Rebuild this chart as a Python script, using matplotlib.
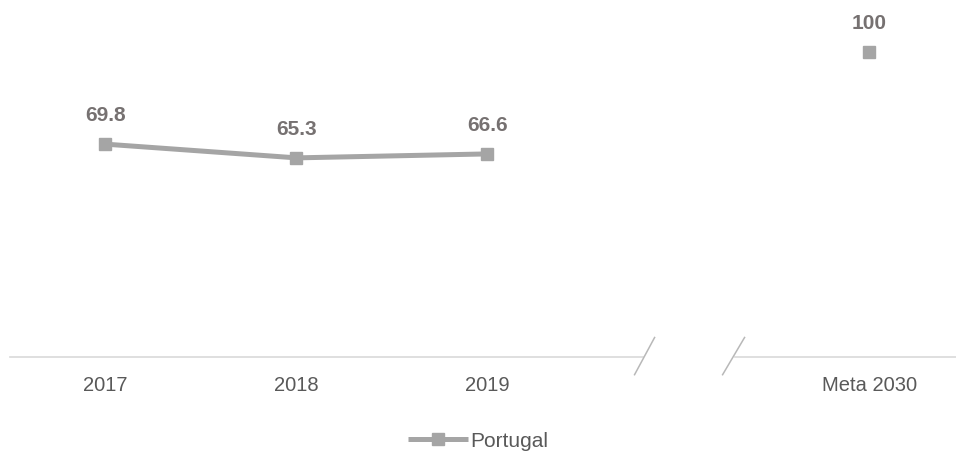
import matplotlib
matplotlib.use("Agg")
import matplotlib.pyplot as plt

# Dados
anos = ['2017', '2018', '2019']
valores = [69.8, 65.3, 66.6]
meta_rotulo = 'Meta 2030'
meta_valor = 100
serie = 'Portugal'

cor_linha = '#a5a5a5'
cor_rotulo = '#767171'
cor_eixo = '#d9d9d9'

plt.rcParams['font.family'] = ['Liberation Sans', 'DejaVu Sans']

fig = plt.figure(figsize=(9.56, 4.52), dpi=100)
ax = fig.add_axes([10 / 956, 94 / 452, 946 / 956, 358 / 452])

x_anos = list(range(len(anos)))
x_meta = len(anos) + 1

ax.plot(x_anos, valores, color=cor_linha, lw=3.6, marker='s', ms=9,
        solid_capstyle='butt', label=serie, zorder=3)
ax.plot([x_meta], [meta_valor], color=cor_linha, ls='none', marker='s', ms=9, zorder=3)

for x, v in zip(x_anos + [x_meta], valores + [meta_valor]):
    ax.annotate(f'{v:g}' if v == int(v) else f'{v:.1f}', (x, v), xytext=(0, 21),
                textcoords='offset points', ha='center', va='center',
                fontsize=15, fontweight='bold', color=cor_rotulo)

ax.set_xlim(-0.5, 4.453)
ax.set_ylim(0, 117.4)

# eixo horizontal com quebra
ax.plot([-0.5, 2.812], [0, 0], color=cor_eixo, lw=1.2, clip_on=False)
ax.plot([3.294, 4.453], [0, 0], color=cor_eixo, lw=1.2, clip_on=False)
ax.plot([2.770, 2.875], [-5.8, 6.4], color='#b8b8b8', lw=1.1, clip_on=False)
ax.plot([3.231, 3.346], [-5.8, 6.4], color='#b8b8b8', lw=1.1, clip_on=False)

for s in ax.spines.values():
    s.set_visible(False)
ax.set_yticks([])
ax.set_xticks(x_anos + [x_meta])
ax.set_xticklabels(anos + [meta_rotulo])
ax.tick_params(axis='x', length=0, pad=13, labelsize=14.5, labelcolor='#595959')

fig.legend(loc='center', bbox_to_anchor=(0.5, 10 / 452), frameon=False,
           fontsize=15, handlelength=2.9, handletextpad=0.1,
           labelcolor='#595959')

fig.savefig('out.png', dpi=100)
